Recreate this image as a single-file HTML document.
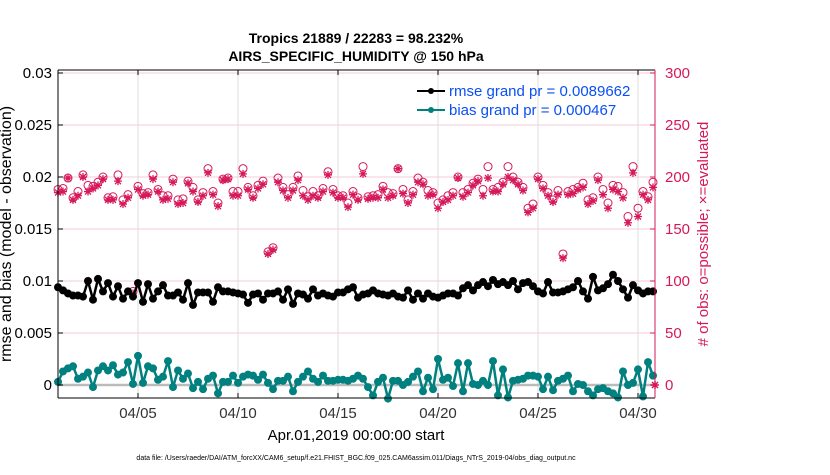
<!DOCTYPE html>
<html><head><meta charset="utf-8"><style>
body{margin:0;background:#fff;width:830px;height:470px;overflow:hidden}
svg{font-family:"Liberation Sans",sans-serif}
</style></head><body>
<svg id="c" width="830" height="470">
<text x="356" y="43" text-anchor="middle" font-size="14" font-weight="bold">Tropics 21889 / 22283 = 98.232%</text>
<text x="356" y="61" text-anchor="middle" font-size="14" font-weight="bold">AIRS_SPECIFIC_HUMIDITY @ 150 hPa</text>
<g id="grid"></g><g id="marks"></g><g id="axes"></g>
<text transform="translate(11,234) rotate(-90)" text-anchor="middle" font-size="16">rmse and bias (model - observation)</text>
<text transform="translate(708,234) rotate(-90)" text-anchor="middle" font-size="15" fill="#d6185a"># of obs: o=possible; ×=evaluated</text>
<text x="356" y="440" text-anchor="middle" font-size="15">Apr.01,2019 00:00:00 start</text>
<text x="356" y="460" text-anchor="middle" font-size="7">data file: /Users/raeder/DAI/ATM_forcXX/CAM6_setup/f.e21.FHIST_BGC.f09_025.CAM6assim.011/Diags_NTrS_2019-04/obs_diag_output.nc</text>
<g>
<line x1="417" y1="91" x2="445" y2="91" stroke="#000" stroke-width="2"/><circle cx="431" cy="91" r="3" fill="#000"/>
<text x="449" y="96" font-size="15" fill="#0a4ff5">rmse grand pr = 0.0089662</text>
<line x1="417" y1="110" x2="445" y2="110" stroke="#00807f" stroke-width="2"/><circle cx="431" cy="110" r="3" fill="#00807f"/>
<text x="449" y="115" font-size="15" fill="#0a4ff5">bias grand pr = 0.000467</text>
</g>
</svg>
<script>
const leftTicks=[0,0.005,0.01,0.015,0.02,0.025,0.03];
const leftTickLabels=["0","0.005","0.01","0.015","0.02","0.025","0.03"];
const rightTicks=[0,50,100,150,200,250,300];
const xTicks=[4,9,14,19,24,29];
const xTickLabels=["04/05","04/10","04/15","04/20","04/25","04/30"];
const rmse=[9.4,9.1,8.8,8.6,8.6,8.5,10.0,8.2,10.2,9.0,9.8,8.5,9.5,8.3,9.0,8.5,9.8,8.0,9.7,8.3,9.0,9.6,8.6,8.6,8.9,8.2,9.8,7.7,8.9,8.9,8.9,8.0,9.4,9.0,9.0,8.9,8.8,8.7,7.9,8.7,8.8,8.2,8.8,8.8,9.0,8.2,9.2,7.8,8.8,8.7,8.3,9.2,8.6,8.8,8.6,8.5,8.9,8.9,9.2,9.4,8.4,8.7,8.8,9.1,8.8,8.7,8.6,8.8,8.5,8.4,9.1,8.2,8.8,8.3,8.8,8.5,8.4,8.6,8.8,8.8,8.6,9.3,9.6,9.1,9.6,9.9,9.5,10.1,9.7,9.9,9.6,10.0,9.2,9.8,9.9,9.5,9.0,8.8,9.9,8.9,8.9,9.0,9.2,9.4,10.0,9.0,8.3,10.4,9.1,9.3,9.7,10.6,10.0,9.2,8.4,9.6,9.1,8.8,9.0,9.0];
const bias=[0.3,1.3,1.6,1.8,0.6,0.8,1.2,-0.2,1.4,1.8,1.4,1.9,1.0,1.2,2.2,0.1,2.8,0.2,1.8,1.6,0.5,0.8,2.3,-0.2,1.4,0.6,1.1,-0.3,0.3,-0.4,0.6,0.9,-0.8,0.3,0.3,0.9,0.2,0.8,1.0,0.9,0.5,1.0,0.2,-0.4,0.4,0.4,0.8,-0.6,0.3,0.8,1.3,0.6,0.3,0.9,0.4,0.4,0.5,0.5,0.4,0.6,0.9,0.6,-0.2,-1.0,0.3,0.7,-1.3,0.4,0.4,0.0,0.3,0.8,1.3,-0.6,0.7,-0.4,2.5,0.5,0.7,-0.1,2.1,-0.6,2.1,0.1,0.0,0.4,0.0,2.3,-1.0,1.5,-1.2,0.4,0.5,0.6,0.9,0.9,0.8,-0.4,0.8,-0.5,0.4,0.6,0.9,-0.6,0.1,0.0,-0.6,-1.0,-0.4,-0.3,-0.6,-0.8,-1.2,1.3,0.0,0.2,1.5,-1.1,2.2,0.9];
const possible=[188,189,199,180,186,202,192,191,195,200,180,181,202,178,183,90,191,184,185,202,188,182,182,198,178,179,196,190,178,185,208,186,175,198,199,186,186,208,190,182,192,196,128,132,199,190,183,190,201,187,181,186,182,189,205,188,182,182,175,186,180,210,181,182,183,191,185,184,208,188,178,186,199,195,187,185,175,178,182,185,200,185,188,194,198,188,210,188,190,195,210,200,195,190,170,174,200,192,185,178,187,126,186,188,190,194,178,180,200,188,175,192,191,185,162,210,170,186,181,195];
const evaluated=[185,186,199,178,182,200,186,189,192,198,178,178,196,174,180,88,188,182,183,198,186,178,179,195,174,175,194,186,176,182,204,183,172,197,198,182,182,203,188,180,189,193,126,130,195,187,180,187,197,182,178,182,180,186,202,185,180,180,171,183,178,203,179,180,180,188,180,182,208,184,175,183,195,193,182,183,170,176,178,182,199,181,185,192,196,182,199,186,186,193,200,197,193,187,166,170,198,189,182,176,183,122,183,184,188,190,174,177,197,183,170,188,186,180,156,204,162,183,178,190];
const NS="http://www.w3.org/2000/svg";
const L=58,R=655,T=70,B=398,Y0=385,PX001=104;
function xs(d){return L+20*d;}
function yl(v){return Y0-v/0.01*PX001;}
function yr(n){return Y0-n/100*PX001;}
function mk(tag,attrs,parent){const e=document.createElementNS(NS,tag);for(const k in attrs)e.setAttribute(k,attrs[k]);parent.appendChild(e);return e;}
function star(x,y){return `M${x-4} ${y}H${x+4}M${x} ${y-4}V${y+4}M${x-3} ${y-3}L${x+3} ${y+3}M${x-3} ${y+3}L${x+3} ${y-3}`;}
const grid=document.getElementById('grid'),marks=document.getElementById('marks'),axes=document.getElementById('axes');
leftTicks.forEach((t,i)=>{
  const g=mk('line',{x1:L,x2:R,y1:yl(t),y2:yl(t),stroke:'#f6cbd9','stroke-width':1},grid);
  
  
  const tx=mk('text',{x:L-6,y:yl(t)+5,'text-anchor':'end','font-size':15},axes);
  tx.textContent=leftTickLabels[i];
  
  
  mk('line',{x1:L,x2:L+5,y1:yl(t),y2:yl(t),stroke:'#000'},axes);
});
rightTicks.forEach(t=>{
  const tx=mk('text',{x:R+10,y:yr(t)+5,'font-size':15,fill:'#d6185a'},axes);
  tx.textContent=String(t);
  
  
  mk('line',{x1:R-5,x2:R,y1:yr(t),y2:yr(t),stroke:'#d6185a'},axes);
});
xTicks.forEach((t,i)=>{
  const g=mk('line',{x1:xs(t),x2:xs(t),y1:T,y2:B,stroke:'#dcdcdc'},grid);
  
  
  const tx=mk('text',{x:xs(t),y:B+20,'text-anchor':'middle','font-size':15,fill:'#333'},axes);
  tx.textContent=xTickLabels[i];
  
  
  mk('line',{x1:xs(t),x2:xs(t),y1:B,y2:B-5,stroke:'#000'},axes);
  mk('line',{x1:xs(t),x2:xs(t),y1:T,y2:T+5,stroke:'#000'},axes);
});
const zl=mk('line',{x1:L,x2:R,y1:Y0,y2:Y0,stroke:'#bbbbbb','stroke-width':2.5},grid);


possible.forEach((p,i)=>{
  const c=mk('circle',{cx:xs(i/4),cy:yr(p),r:4,fill:'none',stroke:'#d6185a','stroke-width':1},marks);
  
  
});
evaluated.forEach((p,i)=>{
  const s=mk('path',{d:star(xs(i/4),yr(p)),stroke:'#d6185a','stroke-width':1.3,fill:'none'},marks);
  
  
});
function series(arr,color,name){
  const pts=arr.map((v,i)=>xs(i/4)+','+yl(v/1000)).join(' ');
  const pl=mk('polyline',{points:pts,fill:'none',stroke:color,'stroke-width':2.5},marks);
  
  
  arr.forEach((v,i)=>{
    const c=mk('circle',{cx:xs(i/4),cy:yl(v/1000),r:4,fill:color},marks);
    
    
  });
}
series(rmse,'#000','rmse');
series(bias,'#00807f','bias');
const endm=mk('path',{d:star(R,Y0),stroke:'#d6185a','stroke-width':1.5,fill:'none'},marks);


mk('line',{x1:L,x2:L,y1:T,y2:B,stroke:'#000'},axes);
mk('line',{x1:L,x2:R,y1:B,y2:B,stroke:'#000'},axes);
mk('line',{x1:L,x2:R,y1:T,y2:T,stroke:'#000'},axes);
mk('line',{x1:R,x2:R,y1:T,y2:B,stroke:'#d6185a'},axes);
</script>
</body></html>
